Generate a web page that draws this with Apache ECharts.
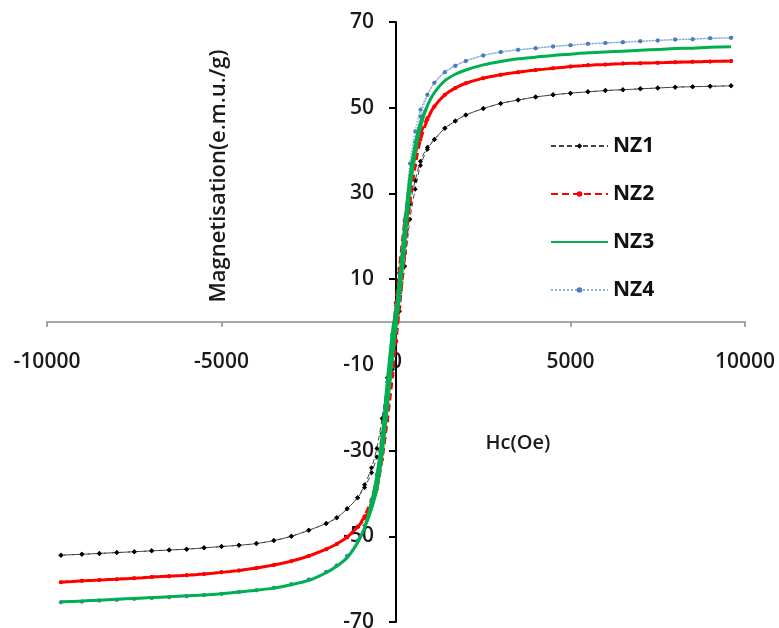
<!DOCTYPE html>
<html>
<head>
<meta charset="utf-8">
<script src="https://cdn.jsdelivr.net/npm/echarts@6/dist/echarts.min.js"></script>
<style>
  html, body { margin: 0; padding: 0; background: #fff; }
  #chart { width: 779px; height: 628px; }
</style>
</head>
<body>
<div id="chart"></div>
<script>
// applied field (Oe), shared by every branch
const fieldH = [-9600, -9000, -8500, -8000, -7500, -7000, -6500, -6000, -5500, -5000,
  -4500, -4000, -3500, -3000, -2500, -2000, -1700, -1400, -1100, -900,
  -700, -550, -400, -250, -100, 0, 100, 250, 400, 550,
  700, 900, 1100, 1400, 1700, 2000, 2500, 3000, 3500, 4000,
  4500, 5000, 5500, 6000, 6500, 7000, 7500, 8000, 8500, 9000, 9600]

const xTicks = [-10000, -5000, 0, 5000, 10000]
const yTicks = [-70, -50, -30, -10, 10, 30, 50, 70]

// magnetisation, increasing-field branch and decreasing-field branch
const nz1Up = [-54.4, -54.2, -54.0, -53.8, -53.6, -53.4, -53.2, -53.0, -52.7, -52.4,
  -52.1, -51.7, -51.0, -50.0, -48.6, -47.0, -45.7, -43.6, -41.0, -38.6,
  -35.2, -31.5, -26.0, -19.0, -11.0, -4.5, 2.5, 13.0, 24.0, 31.0,
  36.5, 40.3, 42.6, 45.2, 46.9, 48.3, 49.8, 51.0, 51.8, 52.5,
  53.0, 53.4, 53.7, 54.0, 54.2, 54.4, 54.6, 54.8, 54.9, 55.0, 55.1]
const nz1Down = [-54.4, -54.2, -54.0, -53.8, -53.6, -53.4, -53.2, -53.0, -52.7, -52.4,
  -52.1, -51.7, -51.0, -50.0, -48.6, -47.0, -45.7, -43.6, -41.0, -38.0,
  -34.0, -29.5, -22.5, -13.0, -3.0, 4.5, 11.5, 20.0, 27.5, 33.0,
  37.5, 40.8, 42.6, 45.2, 46.9, 48.3, 49.8, 51.0, 51.8, 52.5,
  53.0, 53.4, 53.7, 54.0, 54.2, 54.4, 54.6, 54.8, 54.9, 55.0, 55.1]

const nz2Up = [-60.7, -60.4, -60.2, -60.0, -59.8, -59.5, -59.3, -59.1, -58.8, -58.4,
  -58.0, -57.4, -56.7, -55.8, -54.6, -53.0, -51.8, -50.2, -47.8, -45.8,
  -42.5, -39.0, -32.0, -23.0, -12.5, -4.5, 3.5, 16.0, 28.0, 36.5,
  42.5, 47.2, 50.3, 53.0, 54.6, 55.7, 56.9, 57.7, 58.3, 58.8,
  59.2, 59.6, 59.9, 60.1, 60.3, 60.4, 60.5, 60.6, 60.7, 60.8, 60.9]
const nz2Down = [-60.7, -60.4, -60.2, -60.0, -59.8, -59.5, -59.3, -59.1, -58.8, -58.4,
  -58.0, -57.4, -56.7, -55.8, -54.6, -53.0, -51.8, -50.2, -47.8, -45.3,
  -41.5, -36.5, -28.0, -16.5, -4.0, 4.5, 12.5, 23.5, 32.5, 39.0,
  43.8, 47.6, 50.3, 53.0, 54.6, 55.7, 56.9, 57.7, 58.3, 58.8,
  59.2, 59.6, 59.9, 60.1, 60.3, 60.4, 60.5, 60.6, 60.7, 60.8, 60.9]

const nz3Up = [-65.3, -65.1, -64.9, -64.7, -64.5, -64.3, -64.1, -63.9, -63.7, -63.4,
  -63.0, -62.6, -62.1, -61.3, -60.3, -58.5, -57.0, -55.0, -51.5, -48.0,
  -43.5, -39.0, -31.0, -20.0, -8.0, -1.0, 6.0, 18.0, 31.0, 39.5,
  45.5, 50.5, 53.5, 56.3, 57.8, 58.8, 60.0, 60.8, 61.4, 61.8,
  62.2, 62.5, 62.8, 63.0, 63.2, 63.4, 63.6, 63.8, 63.9, 64.1, 64.2]
const nz3Down = [-65.3, -65.1, -64.9, -64.7, -64.5, -64.3, -64.1, -63.9, -63.7, -63.4,
  -63.0, -62.6, -62.1, -61.3, -60.3, -58.5, -57.0, -55.0, -51.5, -48.0,
  -42.0, -36.0, -27.0, -14.0, -2.0, 3.0, 10.0, 22.5, 34.0, 41.5,
  46.5, 50.5, 53.5, 56.3, 57.8, 58.8, 60.0, 60.8, 61.4, 61.8,
  62.2, 62.5, 62.8, 63.0, 63.2, 63.4, 63.6, 63.8, 63.9, 64.1, 64.2]

const nz4Up = [-65.4, -65.2, -65.0, -64.8, -64.6, -64.4, -64.2, -64.0, -63.7, -63.4,
  -63.0, -62.6, -62.0, -61.2, -60.1, -58.3, -56.8, -54.6, -51.0, -47.5,
  -43.0, -38.5, -30.5, -20.0, -9.0, -2.0, 5.0, 18.0, 33.0, 42.0,
  48.0, 53.0, 55.8, 58.3, 59.8, 60.9, 62.2, 63.0, 63.5, 63.9,
  64.3, 64.6, 64.9, 65.1, 65.3, 65.5, 65.7, 65.9, 66.0, 66.2, 66.3]
const nz4Down = [-65.4, -65.2, -65.0, -64.8, -64.6, -64.4, -64.2, -64.0, -63.7, -63.4,
  -63.0, -62.6, -62.0, -61.2, -60.1, -58.3, -56.8, -54.6, -51.0, -47.5,
  -41.5, -35.5, -26.5, -14.0, -3.0, 3.0, 11.0, 24.0, 37.0, 44.5,
  49.5, 53.0, 55.8, 58.3, 59.8, 60.9, 62.2, 63.0, 63.5, 63.9,
  64.3, 64.6, 64.9, 65.1, 65.3, 65.5, 65.7, 65.9, 66.0, 66.2, 66.3]

// full loop: field sweeps up, then back down
const loop = (up, down) => {
  const pts = fieldH.map((h, i) => [h, up[i]])
  for (let i = fieldH.length - 1; i >= 0; i--) pts.push([fieldH[i], down[i]])
  return pts
}

const font = '"Open Sans", "Liberation Sans", sans-serif'
const chart = echarts.init(document.getElementById('chart'))

chart.setOption({
  animation: false,
  textStyle: { fontFamily: font },
  grid: { left: 47, right: 34, top: 22, bottom: 6, containLabel: false, outerBoundsMode: 'none' },
  legend: {
    orient: 'vertical',
    left: 545,
    top: 129,
    itemWidth: 57,
    itemHeight: 7,
    itemGap: 24,
    textStyle: { fontFamily: font, fontSize: 21, fontWeight: 'bold', color: '#111', lineHeight: 24 },
    data: [
      { name: 'NZ1' },
      { name: 'NZ2' },
      { name: 'NZ3', itemStyle: { opacity: 0 } },
      { name: 'NZ4' }
    ]
  },
  xAxis: {
    type: 'value',
    min: -10000,
    max: 10000,
    interval: 5000,
    offset: -300,
    axisLine: { onZero: false, lineStyle: { color: '#8c8c8c', width: 1.5 } },
    axisTick: { length: 5, lineStyle: { color: '#8c8c8c', width: 1.5 }, customValues: xTicks },
    axisLabel: { customValues: xTicks, formatter: v => String(v), margin: 30, fontSize: 21, fontWeight: 600, color: '#1a1a1a', fontFamily: font },
    splitLine: { show: false }
  },
  yAxis: {
    type: 'value',
    min: -70,
    max: 70,
    offset: -349,
    axisLine: { onZero: false, lineStyle: { color: '#000', width: 2 } },
    axisTick: { length: 7, customValues: yTicks, lineStyle: { color: '#000', width: 2 } },
    axisLabel: { customValues: yTicks, formatter: v => String(v), margin: 22, fontSize: 21, fontWeight: 600, color: '#1a1a1a', fontFamily: font },
    splitLine: { show: false }
  },
  graphic: [
    {
      type: 'text',
      x: 219,
      y: 176,
      rotation: Math.PI / 2,
      style: {
        text: 'Magnetisation(e.m.u./g)',
        font: '600 22px ' + font,
        fill: '#1a1a1a',
        align: 'center',
        verticalAlign: 'middle'
      }
    },
    {
      type: 'text',
      x: 518,
      y: 443,
      style: {
        text: 'Hc(Oe)',
        font: '600 20px ' + font,
        fill: '#1a1a1a',
        align: 'center',
        verticalAlign: 'middle'
      }
    }
  ],
  series: [
    {
      name: 'NZ1',
      type: 'line',
      data: loop(nz1Up, nz1Down),
      smooth: 0.3,
      symbol: 'diamond',
      symbolSize: 5,
      itemStyle: { color: '#000' },
      lineStyle: { color: '#444', width: 1, type: [5, 3] },
      z: 2
    },
    {
      name: 'NZ2',
      type: 'line',
      data: loop(nz2Up, nz2Down),
      smooth: 0.3,
      symbol: 'circle',
      symbolSize: 4,
      itemStyle: { color: '#ff0000' },
      lineStyle: { color: '#ff0000', width: 3, type: [7, 4] },
      z: 3
    },
    {
      name: 'NZ3',
      type: 'line',
      data: loop(nz3Up, nz3Down),
      smooth: 0.3,
      showSymbol: false,
      symbol: 'none',
      itemStyle: { color: '#00b050' },
      lineStyle: { color: '#00b050', width: 3 },
      z: 4
    },
    {
      name: 'NZ4',
      type: 'line',
      data: loop(nz4Up, nz4Down),
      smooth: 0.3,
      symbol: 'circle',
      symbolSize: 4,
      itemStyle: { color: '#4a7ebb' },
      lineStyle: { color: '#8fb0dc', width: 1.5, type: 'dotted' },
      z: 3
    }
  ]
})
</script>
</body>
</html>
